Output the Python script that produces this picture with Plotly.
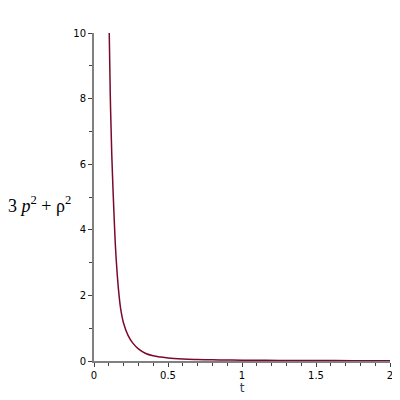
import plotly.graph_objects as go

# values
t_vals = [0.103, 0.11, 0.12, 0.13, 0.14, 0.15, 0.165, 0.18, 0.2, 0.23, 0.26,
          0.3, 0.35, 0.4, 0.45, 0.5, 0.6, 0.7, 0.8, 0.9, 1.0, 1.25, 1.5, 1.75, 2.0]
f_vals = [10.0, 8.1, 6.3, 5.05, 3.95, 3.1, 2.2, 1.6, 1.15, 0.78, 0.56,
          0.37, 0.23, 0.16, 0.12, 0.09, 0.06, 0.045, 0.035, 0.03, 0.025,
          0.018, 0.013, 0.01, 0.008]

x_ticks = [0, 0.5, 1, 1.5, 2]
x_labels = ["0", "0.5", "1", "1.5", "2"]
y_ticks = [0, 2, 4, 6, 8, 10]

line_color = "#7a0a2a"
axis_color = "#808080"

fig = go.Figure()
fig.add_trace(go.Scatter(x=t_vals, y=f_vals, mode="lines", line_shape="spline",
                         line=dict(color=line_color, width=1.5), showlegend=False,
                         cliponaxis=False))

axis_common = dict(
    showgrid=False, zeroline=False, showline=True, linecolor=axis_color,
    linewidth=2, ticks="outside", tickcolor="#404040", ticklen=4, tickwidth=1,
    tickfont=dict(family="DejaVu Sans", size=10, color="#000000"),
    automargin=False,
)
fig.update_xaxes(range=[0, 2], tickvals=x_ticks, ticktext=x_labels,
                 minor=dict(dtick=0.1, ticks="outside", ticklen=3, tickcolor="#404040"),
                 title=dict(text="t", font=dict(family="DejaVu Sans", size=12), standoff=3),
                 **axis_common)
fig.update_yaxes(range=[0, 10], tickvals=y_ticks,
                 minor=dict(dtick=1, ticks="outside", ticklen=3, tickcolor="#404040"),
                 **axis_common)

fig.add_annotation(text="3 <i>p</i><sup>2</sup> + ρ<sup>2</sup>", xref="paper", yref="paper",
                   x=-0.297, y=0.476, xanchor="left", yanchor="middle", showarrow=False,
                   font=dict(family="Liberation Serif", size=18, color="#000000"))

# page body adds an 8px offset, so the figure is sized and placed to land on the reference frame
fig.update_layout(width=392, height=392, margin=dict(l=86, r=10, t=25, b=39),
                  plot_bgcolor="white", paper_bgcolor="white")

fig.write_html("out.html")
